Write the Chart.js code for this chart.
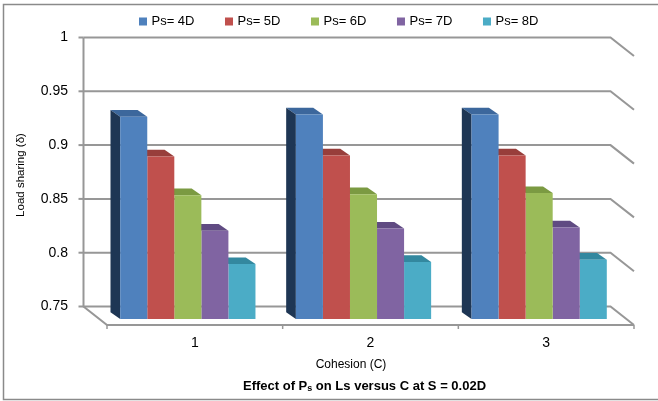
<!DOCTYPE html>
<html>
<head>
<meta charset="utf-8">
<script src="https://cdn.jsdelivr.net/npm/chart.js@4.4.1/dist/chart.umd.min.js"></script>
<style>
  body { margin: 0; background: #fff; }
  canvas { display: block; }
</style>
</head>
<body>
<canvas id="loadChart" width="658" height="401"></canvas>
<script>
// cohesion values on the x axis
const categories = ['1', '2', '3'];
const seriesNames = ['Ps= 4D', 'Ps= 5D', 'Ps= 6D', 'Ps= 7D', 'Ps= 8D'];

// load sharing for each pile spacing
const ps4D = [0.938, 0.940, 0.940];
const ps5D = [0.901, 0.902, 0.902];
const ps6D = [0.865, 0.866, 0.867];
const ps7D = [0.832, 0.834, 0.835];
const ps8D = [0.801, 0.803, 0.805];

const yTicks = [0.75, 0.8, 0.85, 0.9, 0.95, 1];

const FONT = "'Liberation Sans', Arial, sans-serif";
const fronts = ['#4f81bd', '#c0504d', '#9bbb59', '#8064a2', '#4bacc6'];
const tops   = ['#3c679c', '#983e3b', '#7b9a42', '#604b82', '#33889f'];
const sideBlue = '#1e3654';

// 3d geometry (pixels)
const barDX = 9.7, barDY = 6.7;     // depth of each column
const wallDX = 16.5, wallDY = 12.5; // bar plane -> back wall
const floorDX = 23.5, floorDY = 18.5; // back wall -> front edge

const walls3d = {
  id: 'walls3d',
  beforeDraw(chart) {
    const c = chart.ctx;
    c.save();
    c.fillStyle = '#fff';
    c.fillRect(0, 0, chart.width, chart.height);
    c.strokeStyle = '#8a8a8a';
    c.lineWidth = 1.5;
    c.strokeRect(3.5, 4.5, chart.width + 10, 395);
    c.restore();
  },
  beforeDatasetsDraw(chart) {
    const c = chart.ctx;
    const a = chart.chartArea;
    const ys = chart.scales.y;
    const bl = a.left - wallDX, br = a.right - wallDX;
    c.save();
    c.strokeStyle = '#979797';
    c.lineWidth = 2;
    yTicks.forEach(v => {
      const yb = ys.getPixelForValue(v) - wallDY;
      c.beginPath();
      c.moveTo(bl, yb);
      c.lineTo(br, yb);
      c.lineTo(br + floorDX, yb + floorDY);
      c.stroke();
      // tick mark left of the wall
      c.beginPath();
      c.moveTo(bl - 5, yb);
      c.lineTo(bl, yb);
      c.stroke();
    });
    const yTop = ys.getPixelForValue(1) - wallDY;
    const yBot = ys.getPixelForValue(0.75) - wallDY;
    // left wall edge and floor
    c.beginPath();
    c.moveTo(bl, yTop);
    c.lineTo(bl, yBot);
    c.lineTo(bl + floorDX, yBot + floorDY);
    c.lineTo(br + floorDX, yBot + floorDY);
    c.stroke();
    // category separators on the front edge
    const fy = yBot + floorDY;
    const step = (a.right - a.left) / categories.length;
    c.lineWidth = 1.5;
    for (let i = 0; i <= categories.length; i++) {
      const fx = a.left + step * i + (floorDX - wallDX);
      c.beginPath();
      c.moveTo(fx, fy);
      c.lineTo(fx, fy + 4);
      c.stroke();
    }
    c.restore();
  },
  beforeDatasetDraw(chart, args) {
    const c = chart.ctx;
    const i = args.index;
    const bottom = chart.chartArea.bottom;
    c.save();
    args.meta.data.forEach(bar => {
      const p = bar.getProps(['x', 'y', 'base', 'width'], true);
      const L = p.x - p.width / 2, R = p.x + p.width / 2;
      const T = p.y, B = Math.min(p.base, bottom);
      // top face
      c.fillStyle = tops[i];
      c.beginPath();
      c.moveTo(L, T);
      c.lineTo(R, T);
      c.lineTo(R - barDX, T - barDY);
      c.lineTo(L - barDX, T - barDY);
      c.closePath();
      c.fill();
      if (i === 0) {
        c.fillStyle = sideBlue;
        c.beginPath();
        c.moveTo(L, T);
        c.lineTo(L - barDX, T - barDY);
        c.lineTo(L - barDX, B - barDY);
        c.lineTo(L, B);
        c.closePath();
        c.fill();
      }
    });
    c.restore();
  },
  afterDraw(chart) {
    const c = chart.ctx;
    c.save();
    c.fillStyle = '#000';
    c.textBaseline = 'middle';
    // legend
    c.font = '13px ' + FONT;
    let lx = 139;
    chart.data.datasets.forEach(ds => {
      c.fillStyle = ds.backgroundColor;
      c.fillRect(lx, 17.5, 8, 8);
      c.fillStyle = '#000';
      c.textAlign = 'left';
      c.fillText(ds.label, lx + 12.5, 21.5);
      lx += 12.5 + c.measureText(ds.label).width + 30.5;
    });
    // axis titles
    c.textAlign = 'center';
    c.font = '12px ' + FONT;
    c.fillText('Cohesion (C)', 351, 365);
    c.save();
    c.translate(21, 175);
    c.rotate(-Math.PI / 2);
    c.font = '11.5px ' + FONT;
    c.fillText('Load sharing (\u03b4)', 0, 0);
    c.restore();
    // caption with subscript
    const parts = [['Effect of P', 'bold 13px ' + FONT, 0], ['s', 'bold 9px ' + FONT, 3], [' on Ls versus C at S = 0.02D', 'bold 13px ' + FONT, 0]];
    let total = 0;
    parts.forEach(p => { c.font = p[1]; total += c.measureText(p[0]).width; });
    let cx = 364.5 - total / 2;
    c.textAlign = 'left';
    parts.forEach(p => {
      c.font = p[1];
      c.fillText(p[0], cx, 386 + p[2]);
      cx += c.measureText(p[0]).width;
    });
    c.restore();
  }
};

const series = [ps4D, ps5D, ps6D, ps7D, ps8D];

new Chart(document.getElementById('loadChart'), {
  type: 'bar',
  data: {
    labels: categories,
    datasets: series.map((d, k) => ({
      label: seriesNames[k],
      data: d,
      backgroundColor: fronts[k],
      borderWidth: 0,
      categoryPercentage: 0.77,
      barPercentage: 1
    }))
  },
  options: {
    responsive: false,
    animation: false,
    devicePixelRatio: 1,
    layout: { padding: { top: 50, right: 31, bottom: 0, left: 0 } },
    plugins: {
      legend: { display: false },
      tooltip: { enabled: false }
    },
    scales: {
      x: {
        afterFit(s) { s.height = 82; },
        grid: { display: false, drawTicks: false },
        border: { display: false },
        ticks: { padding: 16, labelOffset: 7, color: '#000', font: { size: 14, family: FONT } }
      },
      y: {
        min: 0.75,
        max: 1,
        afterFit(s) { s.width = 100; },
        grid: { display: false, drawTicks: false },
        border: { display: false },
        ticks: {
          stepSize: 0.05,
          padding: 32,
          labelOffset: -12.5,
          color: '#000',
          font: { size: 14, family: FONT },
          callback: v => String(Math.round(v * 100) / 100)
        }
      }
    }
  },
  plugins: [walls3d]
});
</script>
</body>
</html>
